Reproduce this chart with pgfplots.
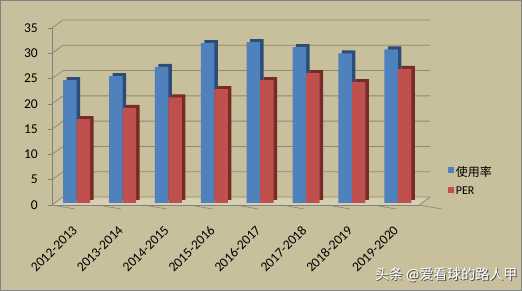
\documentclass[border=0pt]{standalone}
\usepackage{pgfplots}
\pgfplotsset{compat=1.18}
\usepackage{fontspec}
\setmainfont{Carlito}
\newfontfamily\cjk{Noto Sans CJK SC}
\definecolor{bg}{RGB}{200,192,156}
\definecolor{floorc}{RGB}{214,207,176}
\definecolor{gridc}{RGB}{145,136,111}
\definecolor{axc}{RGB}{130,130,130}
\definecolor{cblue}{RGB}{79,129,189}
\definecolor{cred}{RGB}{192,80,77}
\definecolor{sblue}{RGB}{44,77,117}
\definecolor{sred}{RGB}{120,42,40}
\pgfplotstableread{
x u p
0 24.3 16.6
1 25.1 18.8
2 26.9 20.9
3 31.6 22.5
4 31.8 24.3
5 30.8 25.7
6 29.6 23.9
7 30.4 26.5
}\datatable
\begin{document}
\begin{tikzpicture}
\fill[bg] (0,0) rectangle (522bp,291bp);
\draw[axc,line width=1bp] (0.5bp,0.5bp) rectangle (521.5bp,290.5bp);
\begin{axis}[
  at={(52bp,86bp)}, anchor=south west,
  scale only axis, width=367bp, height=177bp,
  xmin=-0.5, xmax=7.5, ymin=0, ymax=35,
  enlarge x limits=false,
  axis x line=none, axis y line*=left,
  axis line style={axc, line width=0.6bp},
  y axis line style={-},
  ytick={0,5,...,35},
  ytick style={axc, line width=0.6bp},
  tick align=outside, major tick length=4bp,
  /pgf/number format/assume math mode=true,
  yticklabel style={anchor=east, inner sep=0pt, xshift=-10bp, font=\fontsize{13.5bp}{15bp}\selectfont},
  xtick=\empty,
  clip=false,
  ybar, bar width=13.5bp,
  legend style={at={(1.07,0.133)}, anchor=west, draw=none, fill=none,
    font=\fontsize{12bp}{14bp}\selectfont, row sep=5bp,
    legend cell align=left},
  legend image code/.code={\fill[#1] (0bp,-3bp) rectangle (6bp,3bp);},
]
% floor
\fill[floorc] (axis cs:-0.5,0) -- (axis cs:7.5,0) -- ([shift={(11bp,8bp)}]axis cs:7.5,0) -- ([shift={(11bp,8bp)}]axis cs:-0.5,0) -- cycle;
\draw[gridc, line width=0.8bp] ([shift={(11bp,8bp)}]axis cs:7.5,0) -- (axis cs:7.5,0);
\pgfplotsinvokeforeach{0,5,10,15,20,25,30,35}{
  \draw[gridc, line width=0.8bp] (axis cs:-0.5,#1) -- ([shift={(11bp,8bp)}]axis cs:-0.5,#1) -- ([shift={(11bp,8bp)}]axis cs:7.5,#1);
}
\draw[axc, line width=0.6bp] (axis cs:-0.5,0) -- (axis cs:7.5,0);
\pgfplotsinvokeforeach{-0.5,0.5,1.5,2.5,3.5,4.5,5.5,6.5,7.5}{
  \draw[axc, line width=0.6bp] (axis cs:#1,0) -- ++(0,-4bp);
}
\addplot[forget plot, fill=sblue, draw=none, bar shift=-5bp, xshift=3.5bp, yshift=5bp] table[x=x,y=u]{\datatable};
\addplot[fill=cblue, draw=none, bar shift=-5bp, yshift=2bp] table[x=x,y=u]{\datatable};
\addplot[forget plot, fill=sred, draw=none, bar shift=8.5bp, xshift=3.5bp, yshift=5bp] table[x=x,y=p]{\datatable};
\addplot[fill=cred, draw=none, bar shift=8.5bp, yshift=2bp] table[x=x,y=p]{\datatable};
\legend{{\cjk 使用率},PER}
\foreach \i/\t in {0/2012-2013,1/2013-2014,2/2014-2015,3/2015-2016,4/2016-2017,5/2017-2018,6/2018-2019,7/2019-2020}{
  \edef\temp{\noexpand\node[rotate=45, anchor=east, inner sep=0pt, font=\noexpand\fontsize{13.5bp}{15bp}\noexpand\selectfont] at ([shift={(0bp,-23bp)}]axis cs:\i,0) {\t};}
  \temp
}
\end{axis}
\node[anchor=east, text=black!70, font=\cjk\fontsize{14bp}{16bp}\selectfont] at (521.8bp,15.2bp) {头条 @爱看球的路人甲};
\node[anchor=east, text=white, font=\cjk\fontsize{14bp}{16bp}\selectfont] at (521bp,16bp) {头条 @爱看球的路人甲};
\end{tikzpicture}
\end{document}
